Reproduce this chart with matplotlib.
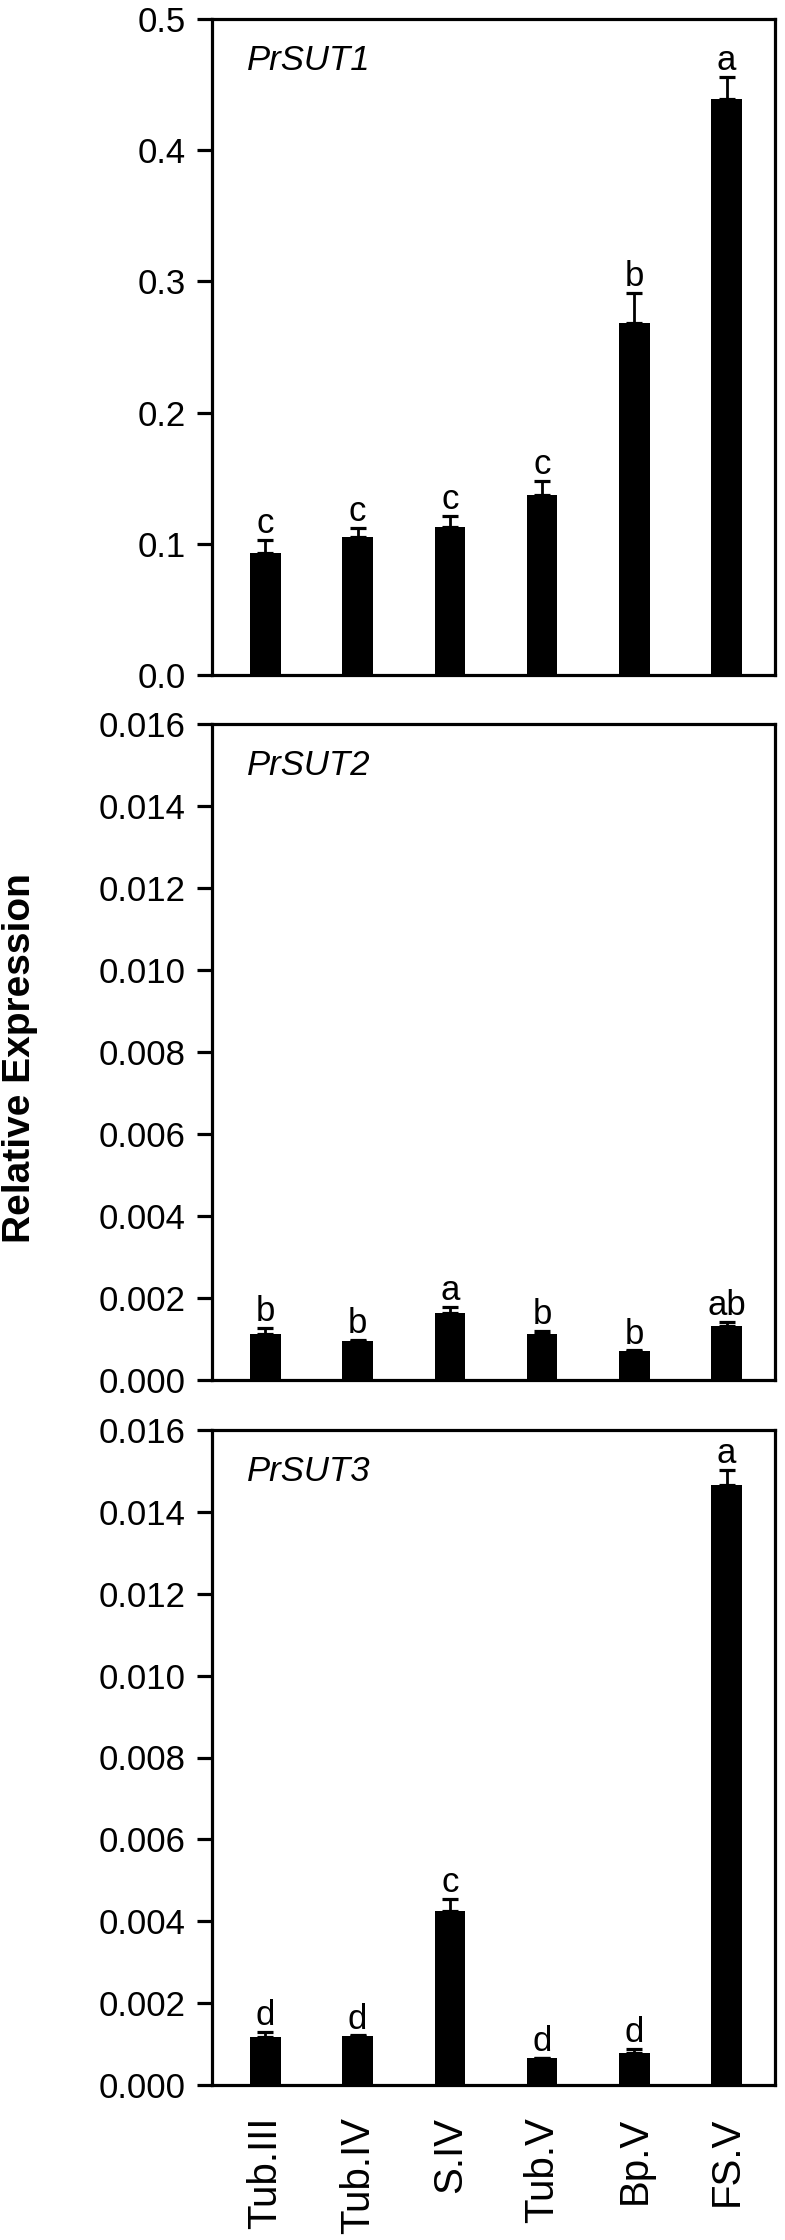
import matplotlib
matplotlib.use("Agg")
import matplotlib.pyplot as plt
import numpy as np

plt.rcParams['font.family'] = ['Liberation Sans', 'DejaVu Sans']

categories = ["Tub.III", "Tub.IV", "S.IV", "Tub.V", "Bp.V", "FS.V"]

sut1 = [0.093, 0.105, 0.113, 0.137, 0.268, 0.439]
sut1_err = [0.010, 0.007, 0.008, 0.011, 0.023, 0.017]
sut1_letters = ["c", "c", "c", "c", "b", "a"]

sut2 = [0.00111, 0.00095, 0.00163, 0.00112, 0.00071, 0.00132]
sut2_err = [0.00015, 0.00003, 0.00015, 0.00007, 0.00001, 0.00010]
sut2_letters = ["b", "b", "a", "b", "b", "ab"]

sut3 = [0.00118, 0.00120, 0.00426, 0.00065, 0.00077, 0.01465]
sut3_err = [0.00011, 0.00001, 0.00029, 0.00002, 0.00012, 0.00038]
sut3_letters = ["d", "d", "c", "d", "d", "a"]

genes = ["PrSUT1", "PrSUT2", "PrSUT3"]
yticks1 = [0.0, 0.1, 0.2, 0.3, 0.4, 0.5]
yticks23 = [0.000, 0.002, 0.004, 0.006, 0.008, 0.010, 0.012, 0.014, 0.016]

W, H = 785, 2240
fig = plt.figure(figsize=(W / 100, H / 100), dpi=100)

left = 212 / W
width = (775 - 212) / W
panels = [(19, 675), (724, 1380), (1430, 2085)]

data = [(sut1, sut1_err, sut1_letters, yticks1, "%.1f"),
        (sut2, sut2_err, sut2_letters, yticks23, "%.3f"),
        (sut3, sut3_err, sut3_letters, yticks23, "%.3f")]

x = np.arange(len(categories))
lw = 2.3
for i, ((top, bot), (vals, errs, letters, yt, fmt)) in enumerate(zip(panels, data)):
    ax = fig.add_axes([left, 1 - bot / H, width, (bot - top) / H])
    ax.bar(x, vals, width=0.33, color="black", edgecolor="none", zorder=2)
    ax.errorbar(x, vals, yerr=[np.zeros(len(vals)), errs], fmt="none",
                ecolor="black", elinewidth=2.0, capsize=6, capthick=2.3, zorder=1)
    for xi, v, e, lab in zip(x, vals, errs, letters):
        ax.annotate(lab, (xi, v + e), xytext=(0, 5), textcoords="offset points",
                    ha="center", va="baseline", fontsize=25)
    ax.set_xlim(-0.58, 5.526)
    ax.set_ylim(yt[0], yt[-1])
    ax.set_yticks(yt)
    ax.set_yticklabels([fmt % t for t in yt])
    for s in ax.spines.values():
        s.set_linewidth(lw)
    ax.tick_params(axis="y", direction="out", length=10.8, width=2.3, pad=8,
                   labelsize=25)
    ax.text(0.062, 0.962, genes[i], transform=ax.transAxes, fontsize=25,
            style="italic", ha="left", va="top")
    ax.set_xticks(x)
    if i < 2:
        ax.tick_params(axis="x", length=0, labelbottom=False)
    else:
        ax.set_xticklabels(categories, rotation=90, fontsize=29, va="top")
        ax.tick_params(axis="x", length=0, pad=23)

fig.text(20 / W, 1 - 1058 / H, "Relative Expression", rotation=90, fontsize=28,
         fontweight="bold", ha="center", va="center")

fig.savefig("out.png", dpi=100)
